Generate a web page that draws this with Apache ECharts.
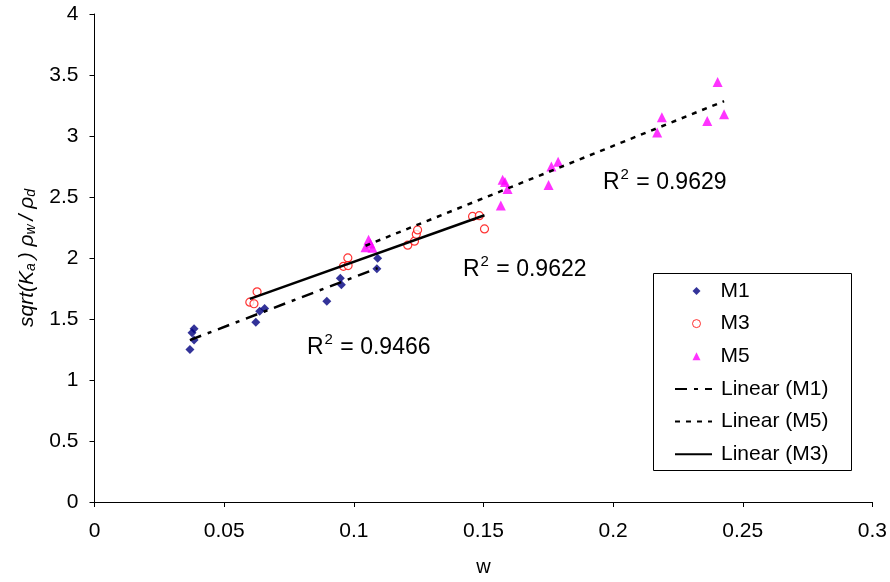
<!DOCTYPE html>
<html>
<head>
<meta charset="utf-8">
<script src="https://cdn.jsdelivr.net/npm/echarts@6/dist/echarts.min.js"></script>
<style>html,body{margin:0;padding:0;background:#fff;}#c{width:890px;height:582px;}</style>
</head>
<body>
<div id="c"></div>
<script>
// ---- data ----
const m1X = [0.0368, 0.0376, 0.0384, 0.0384, 0.0622, 0.0637, 0.0656, 0.0896, 0.0948, 0.0952, 0.1092, 0.1089];
const m1Y = [1.251, 1.388, 1.420, 1.327, 1.474, 1.564, 1.586, 1.646, 1.834, 1.780, 1.998, 1.911];
const m3X = [0.0627, 0.0599, 0.0615, 0.0977, 0.0960, 0.0978, 0.1208, 0.1234, 0.1241, 0.1246, 0.1458, 0.1484, 0.1504];
const m3Y = [1.723, 1.638, 1.625, 2.001, 1.932, 1.938, 2.105, 2.138, 2.194, 2.230, 2.341, 2.347, 2.238];
const m5X = [0.1045, 0.1057, 0.1064, 0.1072, 0.1574, 0.1583, 0.1593, 0.1567, 0.1762, 0.1788, 0.1751, 0.2188, 0.2170, 0.2363, 0.2428, 0.2403];
const m5Y = [2.089, 2.150, 2.118, 2.085, 2.641, 2.622, 2.565, 2.431, 2.750, 2.788, 2.599, 3.154, 3.028, 3.123, 3.178, 3.442];
const seriesNames = ['M1', 'M3', 'M5'];
const trendNames = ['Linear (M1)', 'Linear (M5)', 'Linear (M3)'];
const r2Labels = ['0.9466', '0.9622', '0.9629'];
const xTicks = [0, 0.05, 0.1, 0.15, 0.2, 0.25, 0.3];
const yTicks = [0, 0.5, 1, 1.5, 2, 2.5, 3, 3.5, 4];

const FONT = '"Liberation Sans", Arial, sans-serif';
function pts(xs, ys) { return xs.map((x, i) => [x, ys[i]]); }
function fit(xs, ys) {
  const n = xs.length;
  const mx = xs.reduce((a, b) => a + b, 0) / n;
  const my = ys.reduce((a, b) => a + b, 0) / n;
  let sxy = 0, sxx = 0;
  for (let i = 0; i < n; i++) { sxy += (xs[i] - mx) * (ys[i] - my); sxx += (xs[i] - mx) ** 2; }
  const b = sxy / sxx, a = my - b * mx;
  const x0 = Math.min(...xs), x1 = Math.max(...xs);
  return [[x0, a + b * x0], [x1, a + b * x1]];
}

const chart = echarts.init(document.getElementById('c'), null, { renderer: 'canvas' });
const r2Rich = { b: { fontSize: 23, fontFamily: FONT, color: '#000' }, s: { fontSize: 15, fontFamily: FONT, color: '#000', padding: [0, 1, 16, 1] } };
function r2Text(val, left, cy) {
  return {
    type: 'text', left: left, top: cy - 16, z: 10,
    style: { text: '{b|R}{s|2}{b| = ' + val + '}', rich: r2Rich, fill: '#000' }
  };
}

chart.setOption({
  animation: false,
  backgroundColor: '#fff',
  grid: { left: 94.5, right: 16, top: 14, bottom: 79 },
  xAxis: {
    type: 'value', min: xTicks[0], max: xTicks[xTicks.length - 1], interval: 0.05,
    name: 'w', nameLocation: 'middle', nameGap: 55,
    nameTextStyle: { fontSize: 20, fontFamily: FONT, color: '#000' },
    axisLine: { show: true, onZero: false, lineStyle: { color: '#000', width: 1 } },
    axisTick: { show: true, length: 5, lineStyle: { color: '#000' } },
    splitLine: { show: false },
    axisLabel: { fontSize: 21, fontFamily: FONT, color: '#000', margin: 19,
      formatter: v => String(parseFloat(v.toFixed(2))) }
  },
  yAxis: {
    type: 'value', min: yTicks[0], max: yTicks[yTicks.length - 1], interval: 0.5,
    name: 'sqrt(K{sub|a }) ρ{sub|w }/ ρ{sub|d}', nameLocation: 'middle', nameGap: 56,
    nameTextStyle: { fontSize: 21, fontFamily: FONT, color: '#000', fontStyle: 'italic',
      rich: { sub: { fontSize: 14, fontFamily: FONT, fontStyle: 'italic', color: '#000', padding: [9, 0, 0, 0] } } },
    axisLine: { show: true, onZero: false, lineStyle: { color: '#000', width: 1 } },
    axisTick: { show: true, length: 5, lineStyle: { color: '#000' } },
    splitLine: { show: false },
    axisLabel: { fontSize: 21, fontFamily: FONT, color: '#000', margin: 16,
      formatter: v => String(parseFloat(v.toFixed(2))) }
  },
  legend: [
    {
      orient: 'vertical', left: 692, top: 280.5, padding: 0,
      itemWidth: 8, itemHeight: 8, itemGap: 11.6,
      textStyle: { fontSize: 21, fontFamily: FONT, color: '#000', lineHeight: 21, padding: [0, 0, 0, 15] },
      data: [
        { name: seriesNames[0] },
        { name: seriesNames[1], itemStyle: { color: '#fff', borderColor: '#ff0000', borderWidth: 1 } },
        { name: seriesNames[2] }
      ]
    },
    {
      orient: 'vertical', left: 674, top: 378.5, padding: 0,
      itemWidth: 37, itemHeight: 8, itemGap: 11.6,
      textStyle: { fontSize: 21, fontFamily: FONT, color: '#000', lineHeight: 21, padding: [0, 0, 0, 4] },
      data: [{ name: trendNames[0] }, { name: trendNames[1] }, { name: trendNames[2] }]
    }
  ],
  graphic: [
    { type: 'rect', left: 653, top: 273, z: 0, silent: true,
      shape: { width: 198, height: 197 }, style: { fill: '#fff', stroke: '#000', lineWidth: 1 } },
    r2Text(r2Labels[0], 307, 348.5),
    r2Text(r2Labels[1], 463, 270),
    r2Text(r2Labels[2], 603, 183.5)
  ],
  series: [
    { name: seriesNames[0], type: 'scatter', symbol: 'diamond', symbolSize: 9, z: 3,
      itemStyle: { color: '#000080' }, data: pts(m1X, m1Y) },
    { name: seriesNames[1], type: 'scatter', symbol: 'circle', symbolSize: 8, z: 3,
      itemStyle: { color: '#fff', borderColor: '#ff0000', borderWidth: 1.2 }, data: pts(m3X, m3Y) },
    { name: seriesNames[2], type: 'scatter', symbol: 'triangle', symbolSize: 10, z: 3,
      itemStyle: { color: '#ff00ff' }, data: pts(m5X, m5Y) },
    { name: trendNames[0], type: 'line', symbol: 'none', showSymbol: false, z: 4,
      lineStyle: { color: '#000', width: 2.5, type: [12, 7, 4, 7] }, itemStyle: { color: 'rgba(0,0,0,0)' }, data: fit(m1X, m1Y) },
    { name: trendNames[1], type: 'line', symbol: 'none', showSymbol: false, z: 4,
      lineStyle: { color: '#000', width: 2.5, type: [5, 6] }, itemStyle: { color: 'rgba(0,0,0,0)' }, data: fit(m5X, m5Y) },
    { name: trendNames[2], type: 'line', symbol: 'none', showSymbol: false, z: 4,
      lineStyle: { color: '#000', width: 2.5, type: 'solid' }, itemStyle: { color: 'rgba(0,0,0,0)' }, data: fit(m3X, m3Y) }
  ]
});
</script>
</body>
</html>
